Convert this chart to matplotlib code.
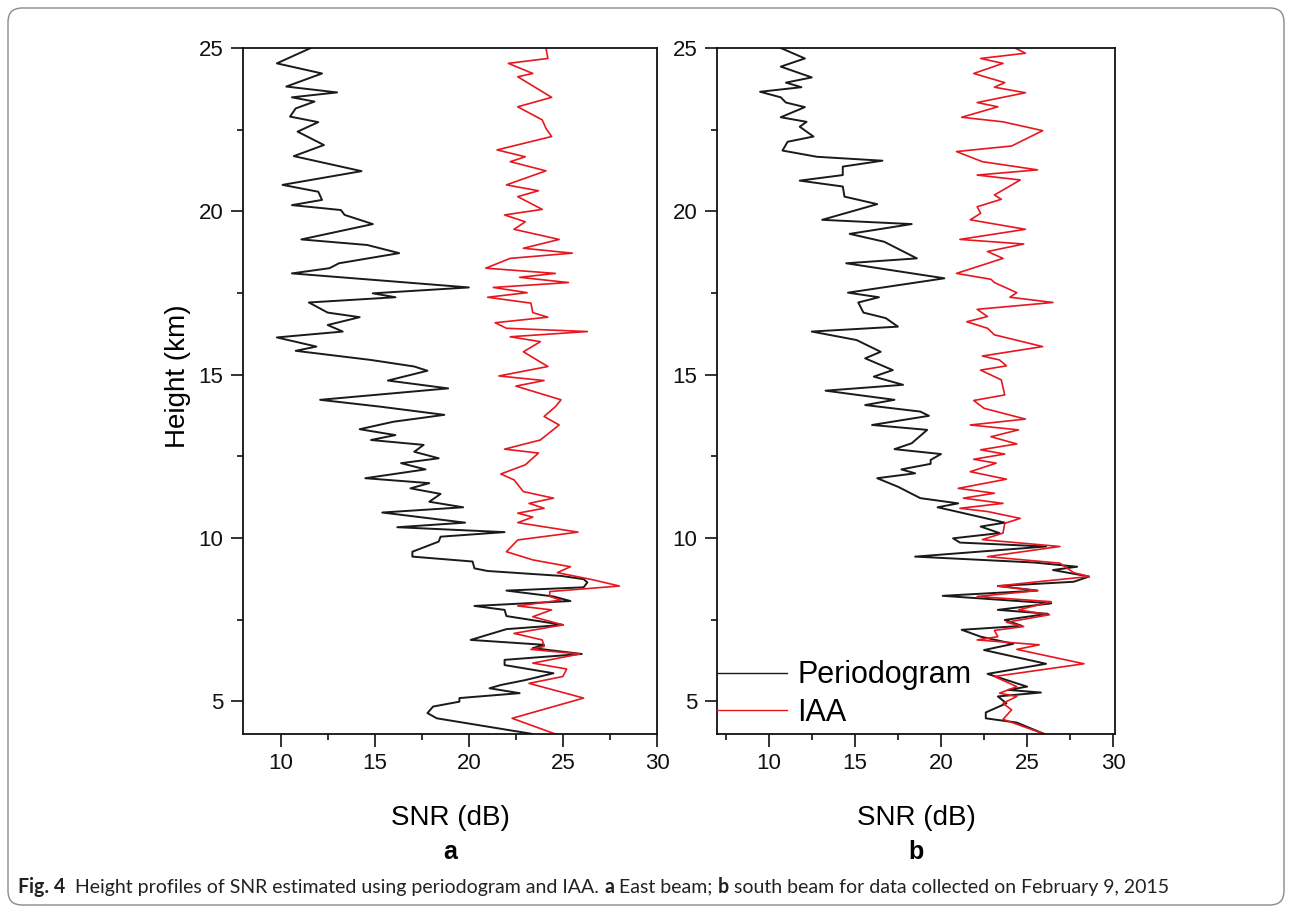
import matplotlib
matplotlib.use("Agg")
import matplotlib.pyplot as plt
from matplotlib.patches import FancyBboxPatch
from matplotlib.ticker import MultipleLocator

plt.rcParams["font.family"] = ["Liberation Sans", "DejaVu Sans"]

# panel a (east beam) - periodogram
a_per_h = [25.0, 24.53, 24.22, 23.82, 23.64, 23.49, 23.36, 23.15, 22.90, 22.73, 22.44, 22.03, 21.69,
           21.23, 20.81, 20.60, 20.35, 20.19, 20.04, 19.89, 19.61, 19.14, 18.97, 18.72, 18.41, 18.26,
           18.10, 17.67, 17.49, 17.37, 17.21, 16.90, 16.76, 16.52, 16.32, 16.14, 15.86, 15.73, 15.45,
           15.25, 15.12, 14.82, 14.58, 14.23, 14.02, 13.77, 13.56, 13.33, 13.15, 13.00, 12.85, 12.64,
           12.44, 12.29, 12.10, 11.83, 11.68, 11.52, 11.35, 11.11, 10.94, 10.78, 10.47, 10.33, 10.18,
           10.04, 9.89, 9.58, 9.43, 9.28, 9.07, 8.99, 8.84, 8.74, 8.64, 8.49, 8.39, 8.21, 8.07, 7.92,
           7.80, 7.61, 7.34, 7.21, 6.88, 6.73, 6.63, 6.45, 6.27, 6.11, 5.86, 5.65, 5.50, 5.40, 5.25,
           5.10, 4.99, 4.84, 4.64, 4.48, 4.0]
a_per_snr = [11.6, 9.8, 12.2, 10.3, 13.0, 10.6, 11.8, 10.8, 10.5, 12.0, 10.9, 12.3, 10.7,
             14.3, 10.1, 12.0, 12.2, 10.6, 13.2, 13.4, 14.9, 11.1, 14.6, 16.3, 13.1, 12.6,
             10.6, 20.0, 14.9, 16.1, 11.5, 12.5, 14.2, 12.5, 13.3, 9.8, 11.9, 10.8, 14.8,
             17.1, 17.8, 15.7, 18.9, 12.1, 15.3, 18.7, 16.0, 14.2, 16.1, 14.8, 17.6, 17.1,
             18.4, 16.4, 17.7, 14.5, 17.9, 16.9, 18.5, 17.9, 19.7, 15.4, 19.8, 16.2, 21.9,
             18.5, 18.4, 17.0, 17.0, 20.2, 20.3, 21.0, 24.9, 26.1, 26.3, 26.1, 22.0, 24.5, 25.4, 20.3,
             21.9, 22.0, 25.0, 22.0, 20.1, 24.0, 23.4, 26.0, 21.9, 21.9, 24.5, 23.0, 21.7, 21.1, 22.7,
             19.5, 19.5, 18.1, 17.8, 18.3, 23.4]

# panel a - IAA
a_iaa_h = [25.0, 24.68, 24.53, 24.22, 24.12, 23.49, 23.20, 22.80, 22.54, 22.29, 21.88, 21.67, 21.52,
           21.24, 20.81, 20.63, 20.45, 20.06, 19.89, 19.68, 19.45, 19.14, 18.87, 18.72, 18.56, 18.26,
           18.10, 17.98, 17.82, 17.67, 17.51, 17.37, 17.19, 16.90, 16.76, 16.59, 16.42, 16.32, 16.16,
           16.01, 15.70, 15.25, 14.96, 14.82, 14.65, 14.23, 14.02, 13.72, 13.46, 13.00, 12.72, 12.60,
           12.24, 11.96, 11.78, 11.42, 11.22, 11.06, 10.91, 10.76, 10.64, 10.47, 10.18, 9.94, 9.58,
           9.33, 9.12, 8.94, 8.72, 8.53, 8.36, 8.21, 8.10, 7.92, 7.80, 7.59, 7.34, 7.08, 6.88, 6.68,
           6.59, 6.45, 6.17, 5.99, 5.76, 5.55, 5.10, 4.48, 4.0]
a_iaa_snr = [24.1, 24.2, 22.1, 23.4, 22.6, 24.4, 22.6, 23.9, 24.1, 24.4, 21.5, 23.0, 22.2,
             24.1, 22.0, 23.7, 22.6, 23.9, 21.9, 23.0, 22.4, 24.8, 22.9, 25.5, 22.2, 20.9,
             24.6, 22.7, 25.3, 21.3, 23.1, 21.0, 23.3, 23.4, 24.2, 21.4, 22.0, 26.3, 22.2,
             23.8, 22.9, 24.2, 21.6, 24.0, 22.5, 24.9, 24.6, 24.0, 24.8, 23.8, 21.9, 23.7,
             23.0, 21.7, 22.4, 22.9, 24.5, 23.2, 24.0, 22.6, 23.4, 22.6, 25.8, 22.6, 22.0,
             23.4, 25.4, 24.7, 26.6, 28.0, 24.3, 24.3, 24.9, 22.6, 24.4, 23.4, 25.0, 22.4, 23.9, 24.0,
             23.3, 25.9, 23.4, 25.2, 25.0, 23.2, 26.1, 22.3, 24.6]

# panel b (south beam) - periodogram
b_per_h = [25.0, 24.68, 24.43, 24.10, 23.94, 23.80, 23.66, 23.49, 23.33, 23.19, 22.88, 22.74, 22.59,
           22.29, 22.13, 21.86, 21.67, 21.55, 21.37, 21.11, 20.94, 20.76, 20.45, 20.22, 19.74, 19.61,
           19.31, 19.07, 18.56, 18.41, 17.95, 17.51, 17.37, 17.21, 16.90, 16.73, 16.47, 16.32, 16.06,
           15.70, 15.50, 15.14, 14.94, 14.69, 14.51, 14.23, 14.07, 13.87, 13.74, 13.46, 13.31, 12.90,
           12.72, 12.57, 12.39, 12.27, 12.10, 11.98, 11.83, 11.57, 11.22, 11.06, 10.94, 10.81, 10.47,
           10.35, 10.15, 9.99, 9.86, 9.74, 9.43, 9.25, 9.12, 9.02, 8.82, 8.66, 8.53, 8.39, 8.23, 8.00,
           7.80, 7.68, 7.49, 7.31, 7.19, 6.98, 6.76, 6.57, 6.15, 5.84, 5.45, 5.35, 5.27, 5.15, 4.94,
           4.66, 4.48, 4.35, 4.0]
b_per_snr = [10.7, 12.1, 10.7, 12.5, 11.0, 11.9, 9.5, 10.7, 11.0, 12.1, 10.7, 12.2, 11.8,
             12.6, 11.1, 10.8, 12.8, 16.6, 14.3, 14.3, 11.8, 14.3, 14.4, 16.3, 13.1, 18.3,
             14.7, 16.7, 18.6, 14.5, 20.2, 14.6, 16.4, 15.2, 15.5, 16.8, 17.5, 12.5, 15.1,
             16.5, 15.6, 17.2, 16.1, 17.8, 13.3, 17.3, 15.6, 18.8, 19.3, 16.0, 19.2, 18.3,
             17.3, 20.0, 19.4, 19.4, 17.7, 18.5, 16.3, 17.5, 18.8, 21.0, 19.8, 20.9, 23.7,
             22.3, 23.4, 20.7, 21.1, 26.1, 18.5, 25.4, 27.9, 26.5, 28.6, 27.7, 23.3, 25.6, 20.1, 26.4,
             23.3, 26.2, 23.7, 24.7, 21.2, 22.3, 24.2, 22.5, 26.1, 22.7, 25.0, 23.9, 25.8, 23.3, 23.8,
             22.6, 22.6, 24.4, 26.0]

# panel b - IAA
b_iaa_h = [25.0, 24.84, 24.68, 24.53, 24.22, 23.94, 23.80, 23.63, 23.33, 23.20, 22.88, 22.74, 22.47,
           22.00, 21.83, 21.52, 21.27, 21.11, 20.96, 20.50, 20.37, 20.14, 19.94, 19.74, 19.45, 19.14,
           19.00, 18.77, 18.56, 18.10, 17.92, 17.82, 17.51, 17.37, 17.21, 17.00, 16.78, 16.62, 16.42,
           16.22, 15.86, 15.57, 15.45, 15.27, 15.14, 14.84, 14.38, 14.21, 13.97, 13.64, 13.46, 13.31,
           13.10, 12.88, 12.70, 12.57, 12.41, 12.29, 12.03, 11.80, 11.52, 11.37, 11.22, 11.06, 10.91,
           10.81, 10.60, 10.45, 10.15, 9.95, 9.74, 9.43, 9.23, 8.94, 8.82, 8.66, 8.53, 8.39, 8.21,
           8.05, 7.80, 7.65, 7.42, 7.29, 7.17, 6.98, 6.88, 6.73, 6.59, 6.15, 5.76, 5.45, 5.25, 5.15,
           4.94, 4.74, 4.45, 4.0]
b_iaa_snr = [24.3, 24.9, 22.3, 23.6, 21.9, 23.7, 23.1, 24.9, 22.1, 23.3, 21.2, 23.6, 25.9,
             24.1, 20.9, 22.4, 25.6, 22.1, 24.6, 23.1, 23.5, 22.1, 22.3, 21.7, 24.9, 21.1,
             24.8, 22.7, 23.6, 20.9, 22.9, 23.1, 24.4, 24.0, 26.5, 22.1, 22.7, 21.5, 22.7,
             23.1, 25.9, 22.4, 23.4, 23.8, 22.3, 23.5, 23.7, 21.9, 22.5, 24.9, 21.7, 24.5,
             22.9, 24.4, 22.3, 23.7, 21.9, 23.2, 21.7, 23.8, 21.0, 23.1, 21.3, 23.6, 21.1,
             22.7, 24.6, 23.7, 23.6, 22.4, 26.9, 22.7, 26.9, 27.7, 28.6, 25.6, 23.3, 25.6, 22.1,
             26.4, 24.5, 26.3, 23.8, 24.8, 23.1, 23.3, 22.1, 25.7, 24.4, 28.3, 23.1, 24.4, 23.4, 24.4,
             23.6, 24.1, 23.6, 26.0]

caption = [("Fig. 4", "bold"),
           ("  Height profiles of SNR estimated using periodogram and IAA. ", "normal"),
           ("a", "bold"),
           (" East beam; ", "normal"),
           ("b", "bold"),
           (" south beam for data collected on February 9, 2015", "normal")]

W, H = 1292, 913
BLACK = "#1a1a1a"
RED = "#e8161e"

fig = plt.figure(figsize=(W / 100, H / 100), dpi=100)


def add_axes_px(left, right, top, bottom):
    return fig.add_axes([left / W, 1 - bottom / H, (right - left) / W, (bottom - top) / H])


def style(ax, xmin, xmax):
    ax.set_xlim(xmin, xmax)
    ax.set_ylim(4, 25)
    ax.xaxis.set_major_locator(MultipleLocator(5))
    ax.xaxis.set_minor_locator(MultipleLocator(2.5))
    ax.yaxis.set_major_locator(MultipleLocator(5))
    ax.yaxis.set_minor_locator(MultipleLocator(2.5))
    ax.tick_params(which="major", direction="out", length=9, width=1.2,
                   labelsize=16, pad=5, colors="#111111")
    ax.tick_params(which="minor", direction="out", length=4.5, width=1.2, colors="#111111")
    for s in ax.spines.values():
        s.set_linewidth(1.3)
        s.set_color("#111111")


ax_a = add_axes_px(243, 657, 48, 734)
ax_b = add_axes_px(717, 1115, 48, 734)

ax_a.plot(a_per_snr, a_per_h, color=BLACK, lw=1.4, label="Periodogram")
ax_a.plot(a_iaa_snr, a_iaa_h, color=RED, lw=1.2, label="IAA")
style(ax_a, 8, 30)

ax_b.plot(b_per_snr, b_per_h, color=BLACK, lw=1.4, label="Periodogram")
ax_b.plot(b_iaa_snr, b_iaa_h, color=RED, lw=1.2, label="IAA")
style(ax_b, 7, 30.1)

leg = ax_b.legend(loc="center left", bbox_to_anchor=(0, 0.058), frameon=False, fontsize=22,
                  handlelength=2.3, handletextpad=0.33, borderpad=0, borderaxespad=0,
                  labelspacing=0.25)
for line in leg.get_lines():
    line.set_linewidth(1.0)

fig.text(178 / W, 1 - 376 / H, "Height (km)", rotation=90, fontsize=20, ha="center", va="center")
for cx, lab in [(450, "a"), (916, "b")]:
    fig.text(cx / W, 1 - 818 / H, "SNR (dB)", fontsize=20, ha="center", va="center")
    fig.text(cx / W, 1 - 852 / H, lab, fontsize=18, fontweight="bold", ha="center", va="center")

# rounded frame around the figure
frame = FancyBboxPatch((8, 8), W - 16, H - 16, boxstyle="round,pad=0,rounding_size=14",
                       transform=None, fill=False, edgecolor="#8a8a8a", lw=1.0)
fig.add_artist(frame)

# caption with bold parts, placed piece by piece, scaled to the reference width
renderer = fig.canvas.get_renderer()
cap_font = ["Lato", "DejaVu Sans"]
probe = 12
total = 0
for s, w in caption:
    t = fig.text(0, 0, s, fontsize=probe, fontweight=w, family=cap_font)
    total += t.get_window_extent(renderer).width
    t.remove()
fs = probe * 1147 / total
x = 18
for s, w in caption:
    t = fig.text(x / W, 1 - 887 / H, s, fontsize=fs, fontweight=w, family=cap_font,
                 va="center", ha="left", color="#222222")
    x += t.get_window_extent(renderer).width

fig.savefig("out.png", dpi=100)
